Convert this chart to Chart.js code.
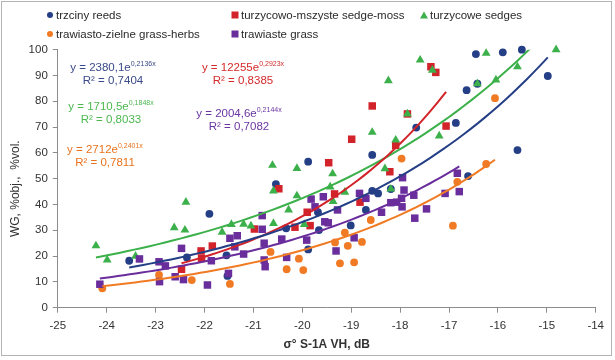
<!DOCTYPE html>
<html><head><meta charset="utf-8">
<script src="https://cdn.jsdelivr.net/npm/chart.js@4.4.1/dist/chart.umd.min.js"></script>
<style>
html,body{margin:0;padding:0;background:#fff;}
#wrap{position:relative;width:615px;height:360px;overflow:hidden;font-family:"Liberation Sans",Arial,sans-serif;background:#fff;}
#c{position:absolute;left:0;top:0;}
#frame{position:absolute;left:1px;top:1px;width:611px;height:355px;border:1px solid #b4b4b4;box-sizing:border-box;pointer-events:none}
.lg{position:absolute;font-size:11.5px;color:#2a2a2a;white-space:nowrap;line-height:14px;transform:translateY(-50%)}
.mk{position:absolute;transform:translate(-50%,-50%)}
.eq{position:absolute;font-size:11.5px;text-align:center;white-space:nowrap;line-height:13px;transform:translateX(-50%)}
.eq sup{font-size:7px;vertical-align:5px;line-height:0}
</style></head>
<body>
<div id="wrap">
<canvas id="c" width="615" height="360"></canvas>
<div id="frame"></div>
<div id="legend"></div>
<div id="eqs"></div>
</div>
<script>
// ---- data ----
const seriesNames = ['trzciny reeds','turzycowo-mszyste sedge-moss','turzycowe sedges','trawiasto-zielne grass-herbs','trawiaste grass'];
const seriesColors = ['#253f86','#d2222a','#3cb04a','#f07b24','#6a2d9c'];

const reedsX = [-23.54,-21.90,-22.36,-21.55,-21.53,-19.88,-20.54,-18.57,-18.57,-18.45,-19.68,-18.70,-19.01,-19.66,-19.88,-20.33,-16.45,-15.90,-15.51,-14.98,-16.64,-16.42,-16.86,-17.67,-15.60,-16.61,-18.19];
const reedsY = [18.2,36.4,19.5,20.3,12.3,56.6,47.9,59.2,45.3,44.3,37.0,37.9,31.9,30.1,22.6,30.8,98.3,99.0,100,89.8,84.3,86.8,71.6,69.8,61.1,51.0,46.0];

const sedgeMossX = [-22.47,-22.07,-22.06,-21.84,-20.98,-19.46,-18.99,-18.57,-17.85,-20.48,-19.34,-18.82,-19.90,-19.84,-20.15,-18.09,-18.21,-17.37,-17.27,-17.06];
const sedgeMossY = [14.9,22.0,19.1,23.9,30.5,56.2,65.3,78.2,75.1,46.1,44.1,40.9,37.0,31.8,31.2,62.9,52.7,93.4,91.2,70.4];

const sedgesX = [-24.22,-23.99,-23.41,-22.38,-22.62,-22.40,-21.64,-21.45,-21.20,-21.05,-20.61,-20.11,-19.38,-20.59,-20.11,-20.28,-19.43,-19.37,-20.59,-19.96,-18.57,-18.24,-18.31,-18.09,-17.85,-17.59,-19.13,-16.24,-14.81,-15.60,-16.04,-17.34,-17.20,-16.42,-18.19];
const sedgesY = [24.0,18.5,20.0,40.9,31.0,30.1,29.3,32.3,32.4,31.7,55.2,54.0,51.9,45.3,43.4,37.9,46.8,41.2,32.7,32.3,68.0,88.0,53.9,65.0,75.1,96.0,44.8,98.6,100,93.4,88.3,92.1,66.6,86.8,46.0];

const grassHerbsX = [-24.09,-22.93,-22.26,-21.48,-20.65,-20.32,-20.07,-19.98,-19.33,-19.13,-19.07,-18.78,-19.23,-18.94,-18.60,-17.97,-16.06,-16.24,-16.83,-16.92];
const grassHerbsY = [7.5,12.7,10.7,9.2,21.6,14.9,19.0,14.6,25.3,29.1,24.0,25.5,17.2,17.6,34.0,57.8,81.2,55.7,48.8,31.8];

const grassX = [-24.14,-23.33,-22.93,-22.80,-22.92,-22.47,-22.60,-22.43,-21.94,-21.86,-21.48,-21.33,-21.51,-21.20,-21.38,-20.82,-20.82,-20.78,-20.78,-20.76,-20.42,-20.32,-19.82,-19.74,-19.57,-19.54,-19.47,-19.28,-19.91,-19.31,-18.94,-18.83,-18.70,-18.38,-17.95,-17.92,-18.07,-17.96,-17.72,-17.70,-17.46,-17.08,-16.83,-16.79,-17.97,-18.19];
const grassY = [9.1,18.9,17.8,16.2,10.1,23.0,12.0,10.9,8.8,18.2,26.9,27.9,13.3,20.8,23.6,35.7,30.4,25.0,18.5,15.9,26.6,19.5,42.1,39.1,43.0,33.3,32.9,37.9,26.2,22.0,27.1,44.3,42.4,37.0,50.4,45.6,40.9,39.1,43.6,34.7,38.3,44.3,52.1,45.0,42.4,40.7];

// exponential trend lines y = a * e^(b x), as labelled on the chart
const trendA = [2380.1, 12255, 1710.5, 2712, 2004.6];
const trendB = [0.2136, 0.2923, 0.1848, 0.2401, 0.2144];
const trendLabelA = ['2380,1','12255','1710,5','2712','2004,6'];
const trendLabelB = ['0,2136x','0,2923x','0,1848x','0,2401x','0,2144x'];
const trendR2 = ['0,7404','0,8385','0,8033','0,7811','0,7082'];

const xTickMin = -25, xTickMax = -14, xTickStep = 1;
const yTickMin = 0, yTickMax = 100, yTickStep = 10;

// ---- build ----
const xs = [reedsX, sedgeMossX, sedgesX, grassHerbsX, grassX];
const ys = [reedsY, sedgeMossY, sedgesY, grassHerbsY, grassY];
const styles = ['circle','rect','triangle','circle','rect'];
const radii = [3.9, 5.3, 5.1, 3.9, 5.3];
const drawOrder = [5,4,3,2,1];

function pts(X,Y){ return X.map((x,i)=>({x:x,y:Y[i]})); }
function trend(i){
  const X = xs[i]; const lo = Math.min(...X), hi = Math.max(...X);
  const out = []; const n = 60;
  for(let k=0;k<=n;k++){ const x = lo + (hi-lo)*k/n; out.push({x:x, y:trendA[i]*Math.exp(trendB[i]*x)}); }
  return out;
}
const datasets = [];
for(let i=0;i<5;i++){
  datasets.push({type:'line', data:trend(i), borderColor:seriesColors[i], borderWidth:2, pointRadius:0, fill:false, tension:0, order:0});
}
for(let i=0;i<5;i++){
  datasets.push({type:'scatter', label:seriesNames[i], data:pts(xs[i],ys[i]), pointStyle:styles[i], pointRadius:radii[i],
    backgroundColor:seriesColors[i], borderColor:seriesColors[i], borderWidth:0, order:drawOrder[i], clip:false});
}
const FONT = 'Liberation Sans';
const axisColor = '#8c8c8c';
new Chart(document.getElementById('c'), {
  type:'scatter',
  data:{datasets:datasets},
  options:{
    responsive:false, animation:false, devicePixelRatio:1,
    layout:{padding:{left:0,right:19.3,top:49.7,bottom:0}},
    plugins:{legend:{display:false}, tooltip:{enabled:false}},
    scales:{
      x:{type:'linear', min:xTickMin, max:xTickMax,
        ticks:{stepSize:xTickStep, color:'#333', font:{family:FONT,size:11.5}, padding:6, maxRotation:0, autoSkip:false},
        grid:{display:true, drawOnChartArea:false, drawTicks:true, tickLength:5, color:axisColor},
        border:{color:axisColor, width:1},
        title:{display:true, text:'σ° S-1A VH, dB', color:'#333', font:{family:FONT,size:12,weight:'bold'}, padding:{top:0,bottom:8}},
        afterFit:(s)=>{ s.height = 52.3; }
      },
      y:{type:'linear', min:yTickMin, max:yTickMax,
        ticks:{stepSize:yTickStep, color:'#333', font:{family:FONT,size:11.5}, padding:5},
        grid:{display:true, drawOnChartArea:false, drawTicks:true, tickLength:5, color:axisColor},
        border:{color:axisColor, width:1},
        title:{display:true, text:'WG, %obj.,  %vol.      ', color:'#333', font:{family:FONT,size:12}, padding:{top:8,bottom:0}},
        afterFit:(s)=>{ s.width = 57.8; }
      }
    }
  }
});

// ---- legend (HTML text) ----
const legendPos = [[50,15],[235,15],[424,15],[50,34],[235,34]];
const lg = document.getElementById('legend');
function marker(style,color){
  if(style==='circle') return `<div style="width:6px;height:6px;border-radius:50%;background:${color}"></div>`;
  if(style==='rect') return `<div style="width:7px;height:7px;background:${color}"></div>`;
  return `<div style="width:0;height:0;border-left:4px solid transparent;border-right:4px solid transparent;border-bottom:7px solid ${color}"></div>`;
}
for(let i=0;i<5;i++){
  const [mx,my] = legendPos[i];
  const m = document.createElement('div'); m.className='mk'; m.style.left=mx+'px'; m.style.top=my+'px';
  m.innerHTML = marker(styles[i], seriesColors[i]); lg.appendChild(m);
  const t = document.createElement('div'); t.className='lg'; t.style.left=(mx+6)+'px'; t.style.top=my+'px';
  t.textContent = seriesNames[i]; lg.appendChild(t);
}
// ---- equations ----
const eqPos = [[113,61],[243,61],[111,100],[105,143],[239,107]];
const eqColors = ['#3a4a8a','#d42a2a','#4cb84f','#e8731e','#6a35a0'];
const eqs = document.getElementById('eqs');
for(let i=0;i<5;i++){
  const d = document.createElement('div'); d.className='eq';
  d.style.left=eqPos[i][0]+'px'; d.style.top=eqPos[i][1]+'px'; d.style.color=eqColors[i];
  d.innerHTML = `y = ${trendLabelA[i]}e<sup>${trendLabelB[i]}</sup><br>R² = ${trendR2[i]}`;
  eqs.appendChild(d);
}
</script>
</body></html>
